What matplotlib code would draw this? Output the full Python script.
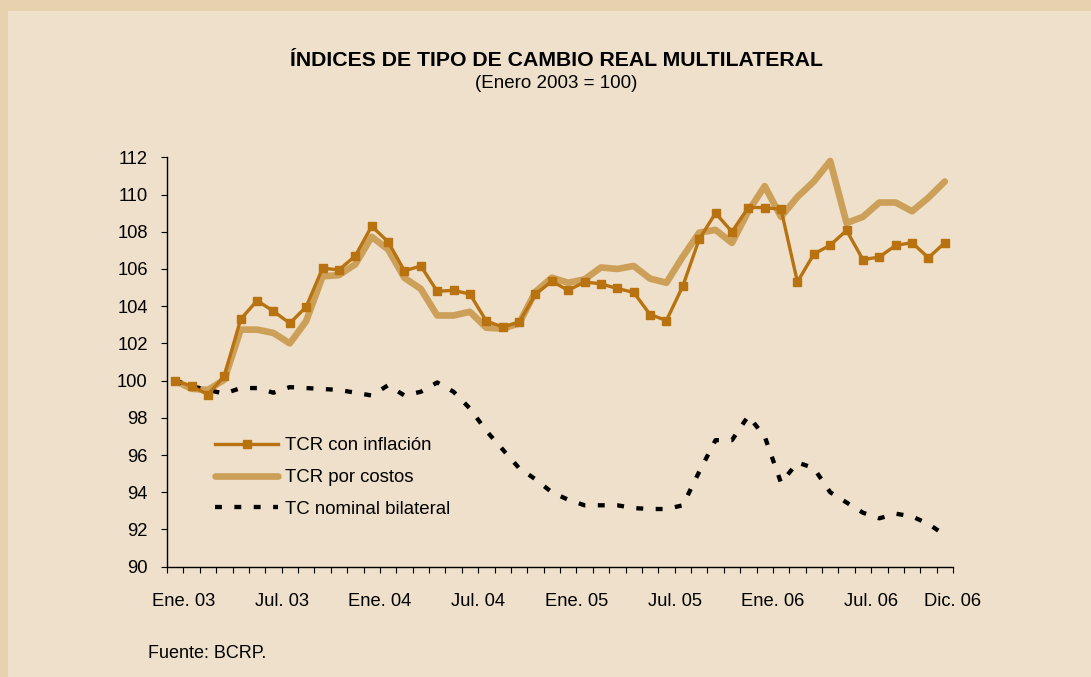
import numpy as np
import matplotlib
matplotlib.use("Agg")
import matplotlib.pyplot as plt
from matplotlib.patches import Rectangle

plt.rcParams['font.family'] = ['Liberation Sans', 'DejaVu Sans']

# monthly index, Ene. 2003 - Dic. 2006 (Enero 2003 = 100)
con_inflacion = [100.0, 99.7, 99.25, 100.25, 103.3, 104.3, 103.73, 103.08, 103.97, 106.04,
                 105.95, 106.7, 108.3, 107.46, 105.9, 106.16, 104.8, 104.85, 104.65, 103.2,
                 102.88, 103.13, 104.64, 105.34, 104.85, 105.3, 105.2, 104.95, 104.74, 103.55,
                 103.23, 105.08, 107.6, 109.0, 108.0, 109.3, 109.3, 109.2, 105.3, 106.8,
                 107.28, 108.07, 106.5, 106.64, 107.27, 107.41, 106.6, 107.41]
por_costos = [100.0, 99.56, 99.5, 100.05, 102.74, 102.74, 102.56, 102.0, 103.2, 105.6,
              105.67, 106.25, 107.73, 107.05, 105.52, 104.93, 103.5, 103.5, 103.7, 102.84,
              102.8, 103.07, 104.77, 105.53, 105.26, 105.44, 106.08, 106.0, 106.16, 105.48,
              105.26, 106.66, 107.95, 108.1, 107.4, 109.1, 110.45, 108.8, 109.87, 110.7,
              111.8, 108.47, 108.8, 109.57, 109.57, 109.1, 109.83, 110.7]
nominal = [100.0, 99.7, 99.5, 99.3, 99.6, 99.6, 99.35, 99.65, 99.6, 99.55,
           99.5, 99.35, 99.2, 99.75, 99.2, 99.4, 99.9, 99.4, 98.5, 97.3,
           96.3, 95.3, 94.7, 94.0, 93.6, 93.3, 93.3, 93.3, 93.15, 93.1,
           93.1, 93.3, 95.1, 96.8, 96.8, 98.1, 97.0, 94.5, 95.6, 95.3,
           94.0, 93.45, 92.9, 92.6, 92.85, 92.7, 92.3, 91.7]
label_idx = [0, 6, 12, 18, 24, 30, 36, 42, 47]
labels = ["Ene. 03", "Jul. 03", "Ene. 04", "Jul. 04", "Ene. 05",
          "Jul. 05", "Ene. 06", "Jul. 06", "Dic. 06"]
series_names = ["TCR con inflación", "TCR por costos", "TC nominal bilateral"]

border = '#E7D1AF'
bg = '#EEE0CA'
dark = '#B8720F'
light = '#CDA05A'

def main():
    fig = plt.figure(figsize=(10.91, 6.77), dpi=100, facecolor=border)
    fig.patches.append(Rectangle((8/1091, 0), 1, 1 - 11/677, transform=fig.transFigure,
                                 facecolor=bg, edgecolor='none', zorder=-10))
    ax = fig.add_axes([167/1091, 1 - 566.7/677, 786/1091, 409.4/677])
    ax.set_facecolor(bg)
    ax.set_zorder(1)

    x = np.arange(len(con_inflacion))
    ax.plot(x, por_costos, color=light, lw=4.8, solid_joinstyle='round',
            solid_capstyle='round', label=series_names[1], zorder=2)
    ax.plot(x, nominal, color='black', lw=3.1, linestyle=(0, (1.6, 2.9)),
            label=series_names[2], zorder=3)
    ax.plot(x, con_inflacion, color=dark, lw=2.4, marker='s', ms=5.4,
            mec=dark, mfc=dark, label=series_names[0], zorder=4)

    ax.set_xlim(-0.5, len(x) - 0.5)
    ax.set_ylim(90, 112)
    ax.set_yticks(np.arange(90, 113, 2))
    ax.tick_params(axis='y', direction='out', length=4.3, width=0.8, pad=9.6,
                   labelsize=13.2, colors='black')

    # labels sit on month boundaries, ticks on every boundary
    ax.set_xticks([i + 0.5 for i in label_idx])
    ax.set_xticklabels(labels)
    ax.set_xticks(np.arange(-0.5, len(x), 1.0), minor=True)
    ax.tick_params(axis='x', which='both', direction='out', length=4.3, width=0.8,
                   pad=14.8, labelsize=13.2)

    for s in ['top', 'right']:
        ax.spines[s].set_visible(False)
    for s in ['left', 'bottom']:
        ax.spines[s].set_linewidth(1.0)

    h, l = ax.get_legend_handles_labels()
    order = [2, 0, 1]
    ax.legend([h[i] for i in order], [l[i] for i in order], loc='upper left',
              bbox_to_anchor=(48/786, 0.316), frameon=False, fontsize=13.4,
              handlelength=3.39, handletextpad=0.38, labelspacing=0.79,
              borderpad=0, borderaxespad=0, numpoints=1)

    fig.text(556/1091, 1 - 60/677, "ÍNDICES DE TIPO DE CAMBIO REAL MULTILATERAL",
             ha='center', va='center', fontsize=15.3, fontweight='bold')
    fig.text(556/1091, 1 - 83/677, "(Enero 2003 = 100)", ha='center', va='center',
             fontsize=13.5)
    fig.text(148/1091, 1 - 654/677, "Fuente: BCRP.", ha='left', va='center', fontsize=13)

    fig.savefig("out.png", dpi=100, facecolor=fig.get_facecolor())
    plt.close(fig)


if __name__ == "__main__":
    main()
